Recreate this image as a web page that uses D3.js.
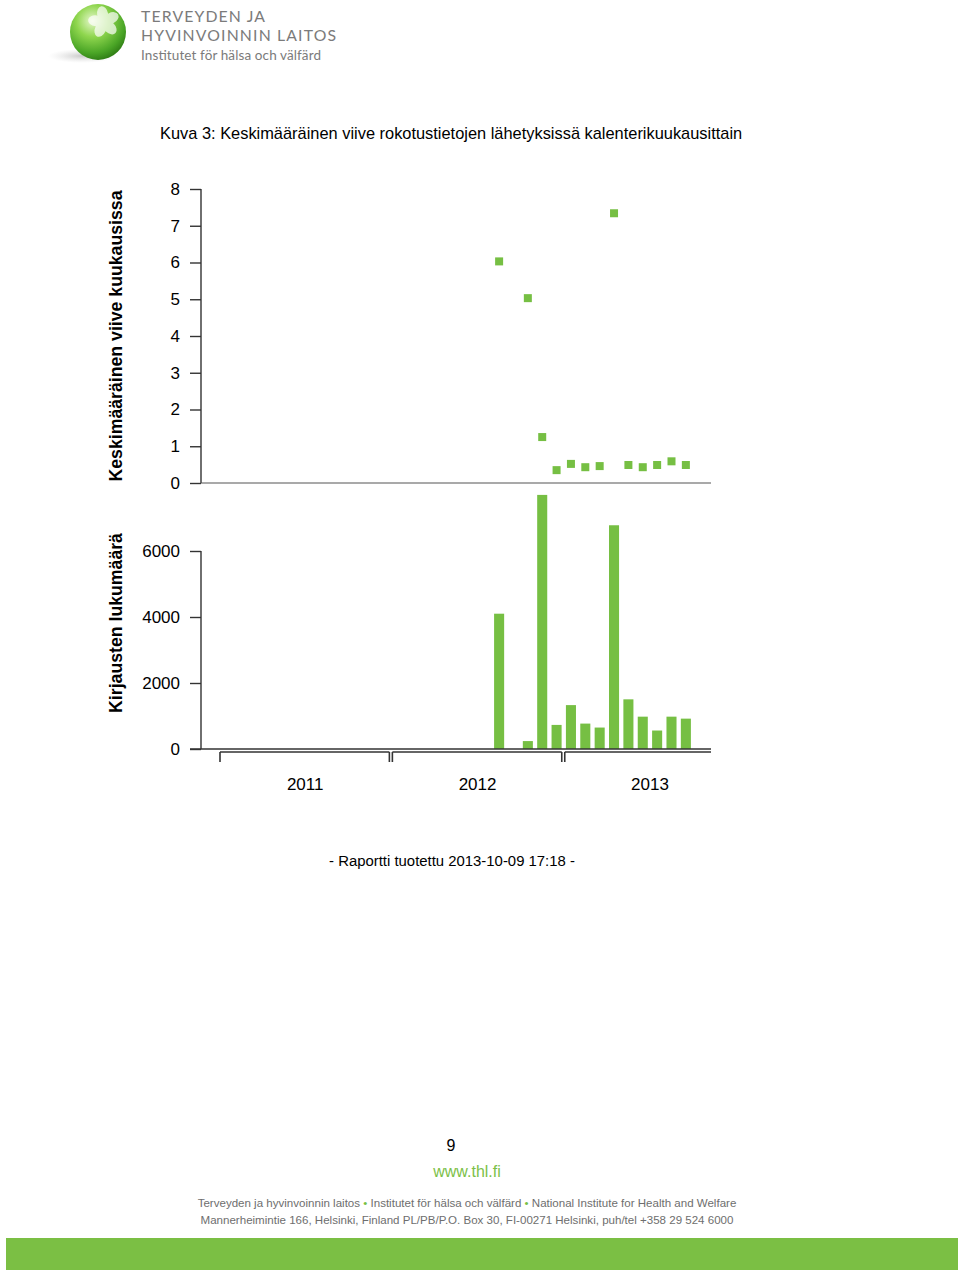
<!DOCTYPE html>
<html><head><meta charset="utf-8">
<script src="https://cdn.jsdelivr.net/npm/d3@7"></script>
<style>body{margin:0;background:#fff}svg{display:block}</style>
</head><body>
<script>
// ---- data ----
const monthLabels = ["2012-08","2012-10","2012-11","2012-12","2013-01","2013-02","2013-03","2013-04","2013-05","2013-06","2013-07","2013-08","2013-09"];
const delayValues = [6.03,5.03,1.25,0.35,0.52,0.43,0.46,7.34,0.49,0.43,0.49,0.59,0.49];
const countValues = [4100,240,7700,730,1330,770,650,6780,1505,980,560,980,920];
const years = ["2011","2012","2013"];
const delayTicks = [0,1,2,3,4,5,6,7,8];
const countTicks = [0,2000,4000,6000];

const W = 960, H = 1272;
const green = "#76bf43";
const axisCol = "#333";
const svg = d3.select("body").append("svg").attr("width", W).attr("height", H);

const monthIndex = s => { const [y,m] = s.split("-").map(Number); return (y-2011)*12 + (m-1); };
const x = d3.scaleLinear().domain([0, 34.25]).range([219, 711]);
const step = x(1) - x(0);
const yTop = d3.scaleLinear().domain([0, 8]).range([483, 189]);
const yBot = d3.scaleLinear().domain([0, 6000]).range([749, 551]);
const axisX = 201;

// ---- logo ----
const defs = svg.append("defs");
const rg = defs.append("radialGradient").attr("id","ball").attr("cx","40%").attr("cy","30%").attr("r","72%");
rg.append("stop").attr("offset","0%").attr("stop-color","#e6f8cc");
rg.append("stop").attr("offset","40%").attr("stop-color","#8fd64e");
rg.append("stop").attr("offset","80%").attr("stop-color","#4aa526");
rg.append("stop").attr("offset","100%").attr("stop-color","#2f7d15");
const sg = defs.append("radialGradient").attr("id","shadow");
sg.append("stop").attr("offset","0%").attr("stop-color","#bbb").attr("stop-opacity",0.8);
sg.append("stop").attr("offset","100%").attr("stop-color","#ddd").attr("stop-opacity",0);
svg.append("ellipse").attr("cx",82).attr("cy",56).attr("rx",34).attr("ry",7).attr("fill","url(#shadow)");
svg.append("circle").attr("cx",98).attr("cy",32).attr("r",28).attr("fill","url(#ball)");
const flower = svg.append("g").attr("transform","translate(104,22) rotate(-10)").attr("fill","#fff").attr("opacity",0.7);
[0,72,144,216,288].forEach(a => {
  flower.append("ellipse").attr("cx",0).attr("cy",-8).attr("rx",5.5).attr("ry",8).attr("transform",`rotate(${a})`);
});
const logoText = svg.append("g").attr("fill","#7b7b7b").attr("font-family","Lato, 'Open Sans', sans-serif");
logoText.append("text").attr("x",141).attr("y",22).attr("font-size",15.8).attr("textLength",124).attr("lengthAdjust","spacing").text("TERVEYDEN JA");
logoText.append("text").attr("x",141).attr("y",41).attr("font-size",15.8).attr("textLength",195).attr("lengthAdjust","spacing").text("HYVINVOINNIN LAITOS");
logoText.append("text").attr("x",141).attr("y",60).attr("font-size",13.5).attr("textLength",180).attr("lengthAdjust","spacing").text("Institutet för hälsa och välfärd");

// ---- title ----
const font = "'Liberation Sans', Arial, Helvetica, sans-serif";
svg.append("text").attr("x",160).attr("y",139).attr("font-family",font).attr("font-size",16.4).attr("fill","#000")
  .text("Kuva 3: Keskimääräinen viive rokotustietojen lähetyksissä kalenterikuukausittain");

// ---- top chart axes ----
const gTopY = svg.append("g").attr("transform",`translate(${axisX},0)`)
  .call(d3.axisLeft(yTop).tickValues(delayTicks).tickFormat(d3.format("d")).tickSize(11).tickPadding(10));
gTopY.select(".domain").remove();
gTopY.append("line").attr("x1",0).attr("x2",0).attr("y1",yTop(8)).attr("y2",yTop(0)).attr("stroke",axisCol).attr("stroke-width",1.4);
svg.append("line").attr("x1",axisX).attr("x2",x.range()[1]).attr("y1",yTop(0)).attr("y2",yTop(0)).attr("stroke","#555").attr("stroke-width",1.2);

// ---- bottom chart axes ----
const gBotY = svg.append("g").attr("transform",`translate(${axisX},0)`)
  .call(d3.axisLeft(yBot).tickValues(countTicks).tickFormat(d3.format("d")).tickSize(11).tickPadding(10));
gBotY.select(".domain").remove();
gBotY.append("line").attr("x1",0).attr("x2",0).attr("y1",yBot(6000)).attr("y2",yBot(0)).attr("stroke",axisCol).attr("stroke-width",1.4);

[gTopY, gBotY].forEach(g => {
  g.selectAll(".tick line").attr("stroke",axisCol).attr("stroke-width",1.4);
  g.selectAll(".tick text").attr("font-family",font).attr("font-size",17).attr("fill","#000");
});

// ---- bars ----
svg.append("g").selectAll("rect").data(countValues).join("rect")
  .attr("x",(d,i)=> x(monthIndex(monthLabels[i]) + 0.5) - step*0.35)
  .attr("width", step*0.7)
  .attr("y", d => yBot(d))
  .attr("height", d => yBot(0) - yBot(d))
  .attr("fill", green);

svg.append("line").attr("x1",axisX-11).attr("x2",x.range()[1]).attr("y1",yBot(0)).attr("y2",yBot(0)).attr("stroke",axisCol).attr("stroke-width",1.4);

// ---- points ----
svg.append("g").selectAll("rect").data(delayValues).join("rect")
  .attr("x",(d,i)=> x(monthIndex(monthLabels[i]) + 0.5) - 4)
  .attr("y", d => yTop(d) - 4)
  .attr("width",8).attr("height",8)
  .attr("fill", green);

// ---- year brackets ----
const bY = yBot(0) + 3;
const bg = svg.append("g").attr("stroke",axisCol).attr("stroke-width",1.6).attr("fill","none");
years.forEach((yr,k) => {
  const x0 = x(12*k) + 1, x1 = Math.min(x(12*k+12) - 2, x.range()[1]);
  bg.append("line").attr("x1",x0).attr("x2",x1).attr("y1",bY).attr("y2",bY);
  bg.append("line").attr("x1",x0).attr("x2",x0).attr("y1",bY).attr("y2",bY+10);
  if (x(12*k+12) < x.range()[1]) bg.append("line").attr("x1",x1).attr("x2",x1).attr("y1",bY).attr("y2",bY+10);
  svg.append("text").attr("x",(x(12*k)+x(12*k+12))/2).attr("y",790).attr("text-anchor","middle")
    .attr("font-family",font).attr("font-size",17).text(yr);
});

// ---- y axis titles ----
svg.append("text").attr("transform",`translate(122,${(yTop(8)+yTop(0))/2}) rotate(-90)`).attr("text-anchor","middle")
  .attr("font-family",font).attr("font-weight","bold").attr("font-size",17.7).text("Keskimääräinen viive kuukausissa");
svg.append("text").attr("transform",`translate(122,623) rotate(-90)`).attr("text-anchor","middle")
  .attr("font-family",font).attr("font-weight","bold").attr("font-size",17.7).text("Kirjausten lukumäärä");

// ---- report note ----
svg.append("text").attr("x",452).attr("y",866).attr("text-anchor","middle").attr("font-family",font).attr("font-size",14.9)
  .text("- Raportti tuotettu 2013-10-09 17:18 -");

// ---- footer ----
svg.append("text").attr("x",451).attr("y",1151).attr("text-anchor","middle").attr("font-family",font).attr("font-size",16).text("9");
svg.append("text").attr("x",467).attr("y",1177).attr("text-anchor","middle").attr("font-family",font).attr("font-size",16).attr("fill","#7cbf48").text("www.thl.fi");
const f1 = svg.append("text").attr("x",467).attr("y",1207).attr("text-anchor","middle").attr("font-family",font).attr("font-size",11.55).attr("fill","#6e6e6e");
f1.append("tspan").text("Terveyden ja hyvinvoinnin laitos ");
f1.append("tspan").attr("fill",green).text("•");
f1.append("tspan").text(" Institutet för hälsa och välfärd ");
f1.append("tspan").attr("fill",green).text("•");
f1.append("tspan").text(" National Institute for Health and Welfare");
svg.append("text").attr("x",467).attr("y",1224).attr("text-anchor","middle").attr("font-family",font).attr("font-size",11.55).attr("fill","#6e6e6e")
  .text("Mannerheimintie 166, Helsinki, Finland PL/PB/P.O. Box 30, FI-00271 Helsinki, puh/tel +358 29 524 6000");
svg.append("rect").attr("x",6).attr("y",1238).attr("width",952).attr("height",32).attr("fill","#7bbf44");
</script>
</body></html>
